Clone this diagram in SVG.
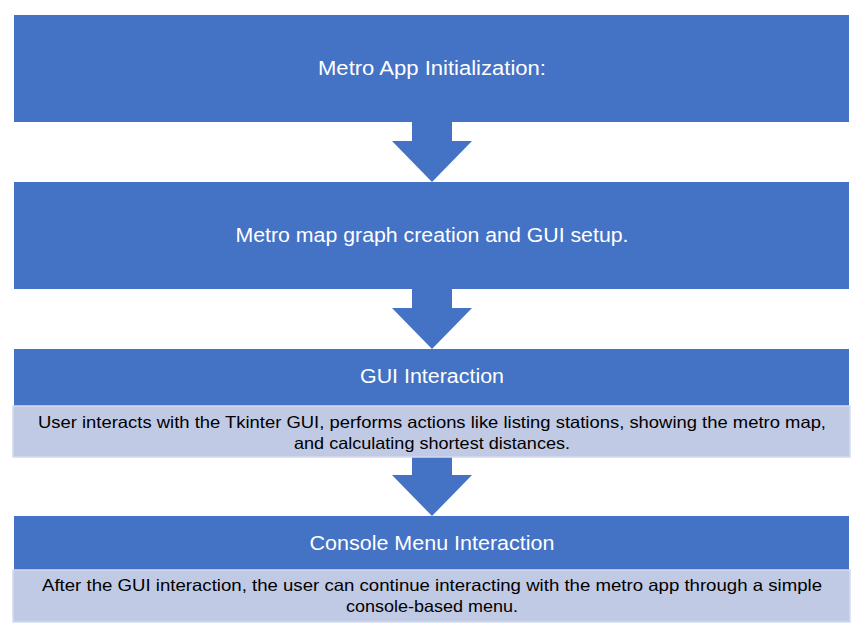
<svg xmlns="http://www.w3.org/2000/svg" width="864" height="635" viewBox="0 0 864 635">
<style>
.hd{fill:#4472C4}
.lt{fill:#C1CAE5;stroke:#D5DBEE;stroke-width:1.5}
.ar{fill:#4472C4}
.tw{font-family:"Liberation Sans",Arial,sans-serif;fill:#FFFFFF;text-anchor:middle}
.tb{font-family:"Liberation Sans",Arial,sans-serif;fill:#000000;text-anchor:middle;font-size:16.5px}
</style>
<rect width="864" height="635" fill="#FFFFFF"/>
<g id="connectors">
<polygon class="ar" points="412,121 452,121 452,141 472,141 432,182 392,141 412,141"/>
<polygon class="ar" points="412,288 452,288 452,308 472,308 432,349 392,308 412,308"/>
<polygon class="ar" points="412,456 452,456 452,475 472,475 432,516 392,475 412,475"/>
</g>
<g id="node-init">
<rect class="hd" x="14" y="15" width="835" height="107"/>
<text class="tw" x="432" y="75" font-size="20" textLength="228" lengthAdjust="spacingAndGlyphs">Metro App Initialization:</text>
</g>
<g id="node-graph">
<rect class="hd" x="14" y="182" width="835" height="107"/>
<text class="tw" x="432" y="242" font-size="20" textLength="393" lengthAdjust="spacingAndGlyphs">Metro map graph creation and GUI setup.</text>
</g>
<g id="node-gui">
<rect class="hd" x="14" y="349" width="835" height="57"/>
<text class="tw" x="432" y="383" font-size="20" textLength="144" lengthAdjust="spacingAndGlyphs">GUI Interaction</text>
<rect class="lt" x="13" y="406" width="837" height="51"/>
<text class="tb" x="432" y="428" textLength="788" lengthAdjust="spacingAndGlyphs">User interacts with the Tkinter GUI, performs actions like listing stations, showing the metro map,</text>
<text class="tb" x="432" y="449" textLength="276" lengthAdjust="spacingAndGlyphs">and calculating shortest distances.</text>
</g>
<g id="node-console">
<rect class="hd" x="14" y="516" width="835" height="54"/>
<text class="tw" x="432" y="550" font-size="20" textLength="245" lengthAdjust="spacingAndGlyphs">Console Menu Interaction</text>
<rect class="lt" x="13" y="570" width="837" height="52"/>
<text class="tb" x="432" y="591" textLength="780" lengthAdjust="spacingAndGlyphs">After the GUI interaction, the user can continue interacting with the metro app through a simple</text>
<text class="tb" x="432" y="612" textLength="172" lengthAdjust="spacingAndGlyphs">console-based menu.</text>
</g>
</svg>
